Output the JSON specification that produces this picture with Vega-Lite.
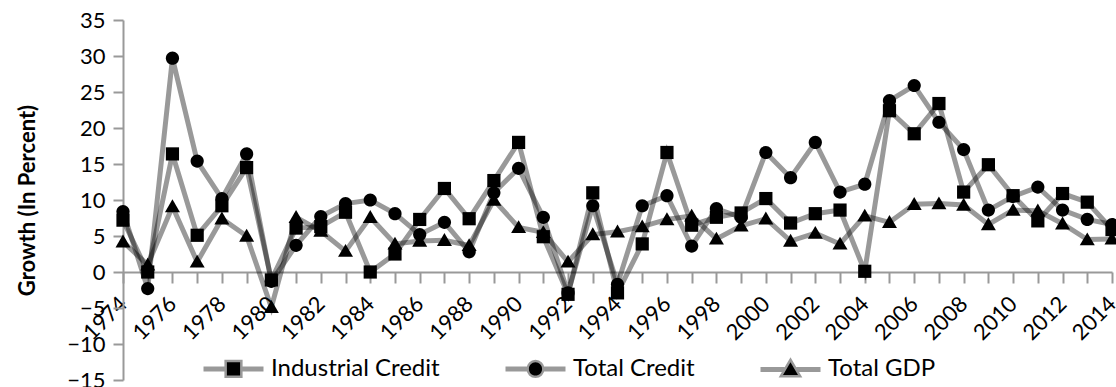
{
  "$schema": "https://vega.github.io/schema/vega-lite/v6.json",
  "width": 989,
  "height": 360,
  "autosize": "none",
  "padding": {"left": 123, "top": 20, "right": 4, "bottom": 7},
  "config": {"view": {"stroke": null}, "font": "Lato"},
  "data": {"values": [
    {"year": 1974, "Industrial Credit": 7.2, "Total Credit": 8.4, "Total GDP": 4.2},
    {"year": 1975, "Industrial Credit": 0.0, "Total Credit": -2.3, "Total GDP": 1.0},
    {"year": 1976, "Industrial Credit": 16.4, "Total Credit": 29.7, "Total GDP": 9.1},
    {"year": 1977, "Industrial Credit": 5.1, "Total Credit": 15.4, "Total GDP": 1.4},
    {"year": 1978, "Industrial Credit": 9.2, "Total Credit": 10.2, "Total GDP": 7.4},
    {"year": 1979, "Industrial Credit": 14.5, "Total Credit": 16.4, "Total GDP": 5.0},
    {"year": 1980, "Industrial Credit": -1.1, "Total Credit": -1.3, "Total GDP": -4.9},
    {"year": 1981, "Industrial Credit": 6.1, "Total Credit": 3.7, "Total GDP": 7.6},
    {"year": 1982, "Industrial Credit": 6.3, "Total Credit": 7.7, "Total GDP": 5.7},
    {"year": 1983, "Industrial Credit": 8.3, "Total Credit": 9.5, "Total GDP": 2.9},
    {"year": 1984, "Industrial Credit": 0.0, "Total Credit": 10.0, "Total GDP": 7.6},
    {"year": 1985, "Industrial Credit": 2.5, "Total Credit": 8.1, "Total GDP": 3.9},
    {"year": 1986, "Industrial Credit": 7.3, "Total Credit": 5.2, "Total GDP": 4.3},
    {"year": 1987, "Industrial Credit": 11.6, "Total Credit": 6.9, "Total GDP": 4.4},
    {"year": 1988, "Industrial Credit": 7.4, "Total Credit": 2.8, "Total GDP": 3.7},
    {"year": 1989, "Industrial Credit": 12.7, "Total Credit": 11.0, "Total GDP": 10.0},
    {"year": 1990, "Industrial Credit": 18.0, "Total Credit": 14.4, "Total GDP": 6.2},
    {"year": 1991, "Industrial Credit": 4.9, "Total Credit": 7.6, "Total GDP": 5.5},
    {"year": 1992, "Industrial Credit": -3.1, "Total Credit": -2.9, "Total GDP": 1.4},
    {"year": 1993, "Industrial Credit": 11.0, "Total Credit": 9.2, "Total GDP": 5.2},
    {"year": 1994, "Industrial Credit": -2.9, "Total Credit": -1.7, "Total GDP": 5.6},
    {"year": 1995, "Industrial Credit": 3.9, "Total Credit": 9.2, "Total GDP": 6.3},
    {"year": 1996, "Industrial Credit": 16.6, "Total Credit": 10.6, "Total GDP": 7.3},
    {"year": 1997, "Industrial Credit": 6.5, "Total Credit": 3.6, "Total GDP": 7.8},
    {"year": 1998, "Industrial Credit": 7.6, "Total Credit": 8.8, "Total GDP": 4.6},
    {"year": 1999, "Industrial Credit": 8.2, "Total Credit": 7.6, "Total GDP": 6.4},
    {"year": 2000, "Industrial Credit": 10.2, "Total Credit": 16.6, "Total GDP": 7.4},
    {"year": 2001, "Industrial Credit": 6.8, "Total Credit": 13.1, "Total GDP": 4.3},
    {"year": 2002, "Industrial Credit": 8.1, "Total Credit": 18.0, "Total GDP": 5.4},
    {"year": 2003, "Industrial Credit": 8.6, "Total Credit": 11.1, "Total GDP": 3.9},
    {"year": 2004, "Industrial Credit": 0.1, "Total Credit": 12.2, "Total GDP": 7.8},
    {"year": 2005, "Industrial Credit": 22.4, "Total Credit": 23.8, "Total GDP": 6.9},
    {"year": 2006, "Industrial Credit": 19.2, "Total Credit": 25.9, "Total GDP": 9.4},
    {"year": 2007, "Industrial Credit": 23.4, "Total Credit": 20.8, "Total GDP": 9.5},
    {"year": 2008, "Industrial Credit": 11.1, "Total Credit": 17.0, "Total GDP": 9.3},
    {"year": 2009, "Industrial Credit": 14.9, "Total Credit": 8.6, "Total GDP": 6.6},
    {"year": 2010, "Industrial Credit": 10.6, "Total Credit": 10.5, "Total GDP": 8.6},
    {"year": 2011, "Industrial Credit": 7.1, "Total Credit": 11.8, "Total GDP": 8.5},
    {"year": 2012, "Industrial Credit": 10.9, "Total Credit": 8.6, "Total GDP": 6.7},
    {"year": 2013, "Industrial Credit": 9.7, "Total Credit": 7.3, "Total GDP": 4.5},
    {"year": 2014, "Industrial Credit": 5.9, "Total Credit": 6.6, "Total GDP": 4.6}
  ]},
  "transform": [{"fold": ["Industrial Credit", "Total Credit", "Total GDP"], "as": ["series", "value"]}],
  "encoding": {
    "x": {
      "field": "year", "type": "ordinal",
      "scale": {"type": "point", "padding": 0},
      "axis": {
        "title": null, "labelAngle": -45, "labelOverlap": false,
        "labelAlign": "right", "labelBaseline": "middle",
        "labelExpr": "datum.value % 2 == 0 ? datum.label : ''",
        "offset": -108, "domainColor": "#999999", "domainWidth": 2,
        "tickColor": "#999999", "tickWidth": 2, "tickSize": 11,
        "labelFontSize": 22, "labelColor": "#000000", "labelPadding": 17, "labelFont": "Lato"
      }
    },
    "y": {
      "field": "value", "type": "quantitative",
      "scale": {"domain": [-15, 35], "nice": false, "zero": false},
      "axis": {
        "values": [-15, -10, -5, 0, 5, 10, 15, 20, 25, 30, 35],
        "title": "Growth (In Percent)", "titleFontSize": 22, "titleFontWeight": "bold",
        "titleColor": "#000000", "titlePadding": 27, "titleFont": "Lato",
        "labelFontSize": 22, "labelColor": "#000000", "labelFont": "Lato", "labelPadding": 8,
        "domainColor": "#999999", "domainWidth": 2, "tickColor": "#999999", "tickWidth": 2,
        "tickSize": 10, "grid": false
      }
    }
  },
  "layer": [
    {
      "mark": {"type": "line", "strokeWidth": 5},
      "encoding": {
        "color": {
          "field": "series", "type": "nominal",
          "scale": {"domain": ["Industrial Credit", "Total Credit", "Total GDP"], "range": ["rgba(0,0,0,0.4)", "rgba(0,0,0,0.4)", "rgba(0,0,0,0.4)"]},
          "legend": {
            "title": null, "orient": "none", "legendX": 78, "legendY": 316, "direction": "horizontal", "columns": 3,
            "symbolSize": 3600, "symbolStrokeWidth": 5,
            "labelFontSize": 24, "labelFont": "Lato", "labelColor": "#000000", "labelLimit": 400, "labelOffset": 5, "columnPadding": 55,
            "encode": {
              "symbols": {
                "update": {
                  "shape": {"signal": "datum.value === 'Industrial Credit' ? 'M-1,0L-0.22,0M0.22,0L1,0M-0.22,-0.22L0.22,-0.22L0.22,0.22L-0.22,0.22Z' : datum.value === 'Total Credit' ? 'M-1,0L-0.22,0M0.22,0L1,0M0.22,0A0.22,0.22,0,1,1,-0.22,0A0.22,0.22,0,1,1,0.22,0Z' : 'M-1,0L-0.2,0M0.2,0L1,0M0,-0.24L0.25,0.19L-0.25,0.19Z'"},
                  "fill": {"value": "#000000"},
                  "stroke": {"value": "rgba(0,0,0,0.4)"},
                  "strokeWidth": {"value": 5},
                  "opacity": {"value": 1}
                }
              }
            }
          }
        }
      }
    },
    {
      "mark": {"type": "point", "filled": true, "opacity": 1, "size": 3600, "color": "#000000"},
      "encoding": {
        "shape": {
          "field": "series", "type": "nominal",
          "scale": {"range": ["M-0.22,-0.22L0.22,-0.22L0.22,0.22L-0.22,0.22Z", "M0.22,0A0.22,0.22,0,1,1,-0.22,0A0.22,0.22,0,1,1,0.22,0Z", "M0,-0.24L0.25,0.19L-0.25,0.19Z"]},
          "legend": null
        }
      }
    }
  ]
}
